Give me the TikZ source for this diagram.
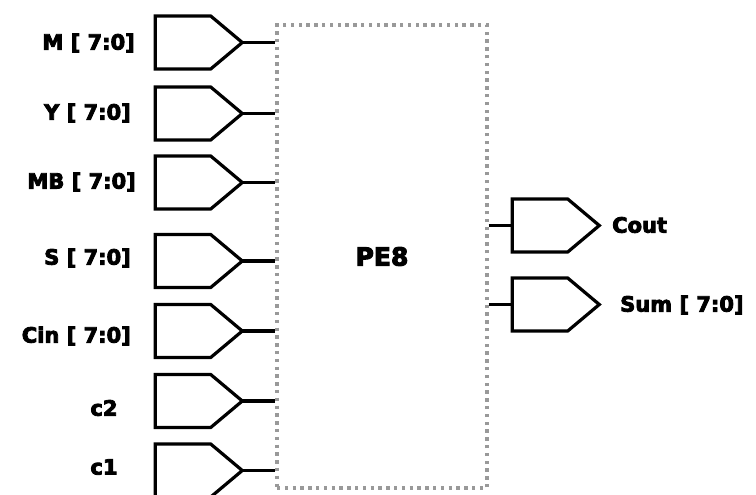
\documentclass[tikz,border=0pt]{standalone}
\usepackage{fontspec}
\setmainfont{DejaVu Sans}[BoldFeatures={FakeBold=4}]
\usetikzlibrary{shapes.symbols}
\tikzset{
  port/.style={draw=black, line width=3.2pt, signal, signal to=east, signal pointer angle=80,
    minimum width=87pt, minimum height=53pt, inner sep=0pt, outer sep=0pt, miter limit=10},
  wire/.style={draw=black, line width=3.2pt},
  lbl/.style={font=\fontsize{21}{24}\selectfont\bfseries, inner sep=0pt},
  blk/.style={draw=black!40, line width=3.4pt, dash pattern=on 3.4pt off 4.4pt,
    minimum width=210pt, minimum height=463pt, inner sep=0pt,
    font=\fontsize{25}{28}\selectfont\bfseries}
}
\begin{document}
\begin{tikzpicture}[x=1pt,y=-1pt]
\useasboundingbox (0,0) rectangle (756,495);
\node[blk] (pe) at (382,256.5) {PE8};
% inputs
\node[port] (pM) at (183,42.5) {};
\node[port] (pY) at (183,113.5) {};
\node[port] (pMB) at (183,182.5) {};
\node[port] (pS) at (183,261) {};
\node[port] (pCin) at (183,331) {};
\node[port] (pc2) at (183,401) {};
\node[port] (pc1) at (183,470.5) {};
\node[lbl,anchor=east] (lM) at (135,43) {M [ 7:0]};
\node[lbl,anchor=east] (lY) at (131,113) {Y [ 7:0]};
\node[lbl,anchor=east] (lMB) at (136,182) {MB [ 7:0]};
\node[lbl,anchor=east] (lS) at (131,258) {S [ 7:0]};
\node[lbl,anchor=east] (lCin) at (131,336) {Cin [ 7:0]};
\node[lbl] (lc2) at (104,408) {c2};
\node[lbl] (lc1) at (104,467) {c1};
\foreach \p in {pM,pY,pMB,pS,pCin,pc2,pc1}{
  \draw[wire] (\p.east) -- (\p.east -| pe.west);
}
% outputs
\node[port] (pCout) at (540,225.5) {};
\node[port] (pSum) at (540,304.5) {};
\node[lbl,anchor=west] (lCout) at (612,225) {Cout};
\node[lbl,anchor=west] (lSum) at (620,305) {Sum [ 7:0]};
\draw[wire] (pCout.west -| pe.east) -- (pCout.west);
\draw[wire] (pSum.west -| pe.east) -- (pSum.west);
\end{tikzpicture}
\end{document}
